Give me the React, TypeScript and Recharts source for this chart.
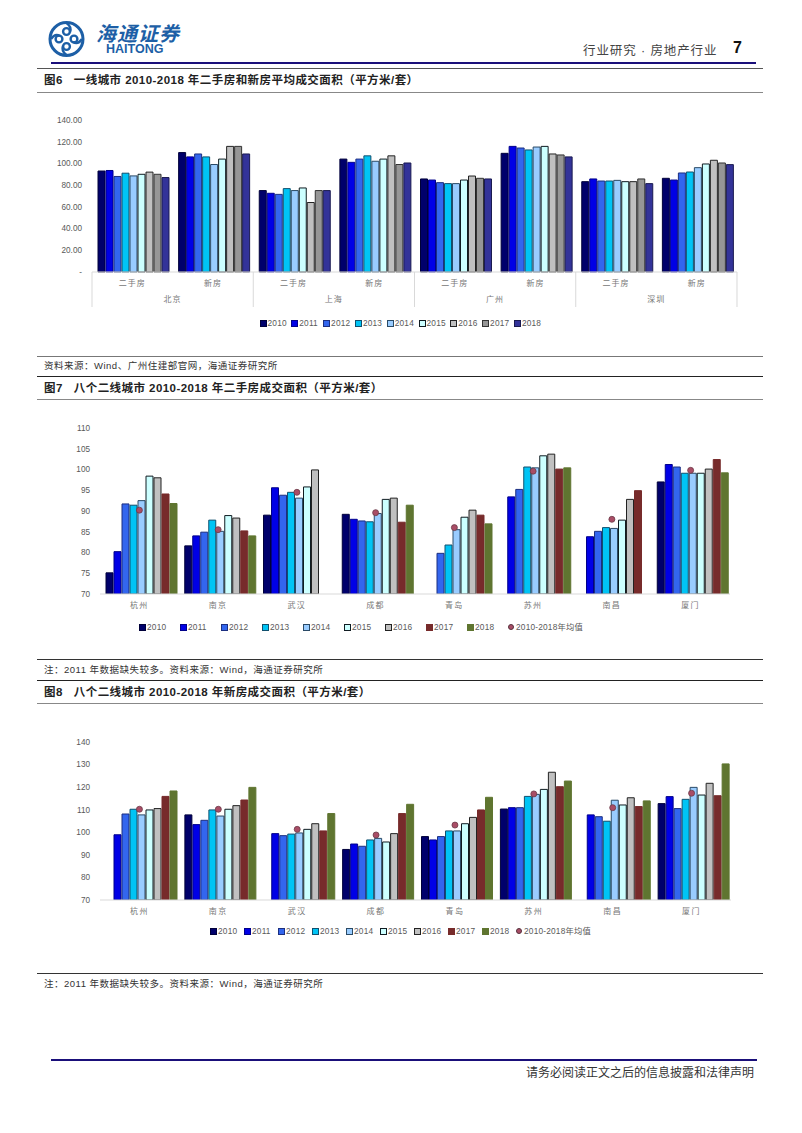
import { BarChart, ComposedChart, Bar, Line, XAxis, YAxis } from "recharts";

const YEARS = ["2010","2011","2012","2013","2014","2015","2016","2017","2018"];
const KINDS = ["二手房","新房","二手房","新房","二手房","新房","二手房","新房"];
const TIER1_CITIES = ["北京","上海","广州","深圳"];
const CITIES = ["杭州","南京","武汉","成都","青岛","苏州","南昌","厦门"];

// fig 6, one list per city/kind, 2010..2018
const BJ_OLD = [93,93.5,88,91,88.5,90,92,90,87];
const BJ_NEW = [110,106,108.7,106,99,104,115.7,115.7,108.7];
const SH_OLD = [75,72.5,71.5,76.8,75,77.4,64,75,75];
const SH_NEW = [104,101,104,107,102,104,107,99,100.4];
const GZ_OLD = [85.7,84.7,82.3,81.4,81.4,84.7,88.4,86.3,85.7];
const GZ_NEW = [109.3,115.7,114.2,112.4,115.1,115.7,108.7,107.8,106];
const SZ_OLD = [83.2,85.7,83.8,83.8,84.4,83.2,83.2,85.7,81.4];
const SZ_NEW = [86.3,84.7,91.2,92.1,96.1,99.5,102.9,100.4,98.9];
const FIG6_ROWS = [BJ_OLD,BJ_NEW,SH_OLD,SH_NEW,GZ_OLD,GZ_NEW,SZ_OLD,SZ_NEW];

// fig 7 second-hand, by city
const F7_ROWS = [
  [75.1,80.2,91.7,91.4,92.5,98.4,98,94.1,91.8],
  [81.6,84,84.9,87.8,85.1,88.9,88.3,85.2,84],
  [89,95.6,93.8,94.5,93.1,95.8,99.9,null,null],
  [89.2,88,87.6,87.4,89.4,92.8,93.1,87.3,91.4],
  [null,null,79.8,81.8,85.5,88.5,90.2,89,86.9],
  [null,93.4,95.2,100.6,100.4,103.3,103.7,100.1,100.4],
  [null,83.8,85.1,86,85.8,87.8,92.8,94.9,null],
  [97,101.2,100.6,99.1,99.1,99.1,100.1,102.4,99.2],
];
const F7_MEAN = [90.2,85.5,94.5,89.6,86,99.6,88,99.8];

// fig 8 new homes, by city
const F8_ROWS = [
  [null,98.9,108.1,110.2,107.7,109.9,110.5,115.9,118.3],
  [107.7,103.4,105.3,109.9,107.2,110.2,111.8,114.3,119.9],
  [null,99.4,98.5,99.2,99.7,101.3,103.8,100.6,108.3],
  [92.4,94.8,93.8,96.6,97.3,95.7,99.4,108.3,112.4],
  [98.1,96.6,98.1,100.6,100.6,103.8,106.6,109.9,115.5],
  [110.3,110.9,110.9,115.9,116.8,119,126.6,120.2,122.7],
  [null,107.7,106.9,104.9,114.2,112.1,115.3,111.4,113.9],
  [112.7,115.8,110.5,114.6,119.9,116.5,121.7,116.2,130.3],
];
const F8_MEAN = [110.2,110.2,101.3,98.8,103.2,117,110.9,117.3];

const FILLS = ["#00006b","#0000e6","#3366ee","#00c4f5","#99ccff","#ccffff","#c0c0c0","#969696","#333399"];
const STROKES = ["#00003a","#00008a","#1c2f80","#10506e","#2a4a66","#101c22","#222222","#333333","#1a1a50"];
const FILLS_B = [...FILLS.slice(0,7),"#772b2b","#5f7530"];
const STROKES_B = [...STROKES.slice(0,7),"#772b2b","#5f7530"];

const SANS = "'Liberation Sans', Arial, sans-serif";
const CJK = "'Noto Sans CJK SC', sans-serif";
const MIXED = "'Liberation Sans', 'Noto Sans CJK SC', sans-serif";
const AXIS_GREY = "#595959";

const fig6Data = KINDS.map((kind, i) => {
  const row: Record<string, any> = { kind, idx: i };
  YEARS.forEach((y, j) => { row[y] = FIG6_ROWS[i][j]; });
  return row;
});
const toRows = (rows: (number | null)[][], mean: number[]) =>
  CITIES.map((city, i) => {
    const row: Record<string, any> = { city, mean: mean[i] };
    YEARS.forEach((y, j) => { row[y] = rows[i][j]; });
    return row;
  });
const fig7Data = toRows(F7_ROWS, F7_MEAN);
const fig8Data = toRows(F8_ROWS, F8_MEAN);

function LegendRow({ fills, strokes, step, left, top, withMean, label }: any) {
  return (
    <div style={{ position: "absolute", left, top, height: 12, fontFamily: MIXED, fontSize: 8.3, color: AXIS_GREY, letterSpacing: 0.2 }}>
      {YEARS.map((y, i) => (
        <span key={y} style={{ position: "absolute", left: i * step, top: 0, whiteSpace: "nowrap", lineHeight: "12px" }}>
          <span style={{ display: "inline-block", width: 5, height: 5, background: fills[i], border: `1px solid ${strokes[i]}`, marginRight: 1, verticalAlign: -0.5 }} />
          {y}
        </span>
      ))}
      {withMean && (
        <span style={{ position: "absolute", left: 9 * step, top: 0, whiteSpace: "nowrap", lineHeight: "12px" }}>
          <span style={{ display: "inline-block", width: 4, height: 4, borderRadius: 3, background: "#a94d66", border: "1px solid #55303c", marginRight: 2, verticalAlign: 0 }} />
          {label}
        </span>
      )}
    </div>
  );
}

function Fig6Tick({ x, y, index }: any) {
  const band = 80.6;
  const isFirst = index % 2 === 0;
  return (
    <g>
      {isFirst && <line x1={x - band / 2} x2={x - band / 2} y1={y - 8} y2={y + 27} stroke="#d9d9d9" />}
      {index === 7 && <line x1={x + band / 2} x2={x + band / 2} y1={y - 8} y2={y + 27} stroke="#d9d9d9" />}
      <text x={x} y={y + 6} textAnchor="middle" fontSize={8} fontFamily={CJK} fill="#777" letterSpacing={1}>{KINDS[index]}</text>
      {isFirst && (
        <text x={x + band / 2} y={y + 22} textAnchor="middle" fontSize={8} fontFamily={CJK} fill="#777" letterSpacing={1}>
          {TIER1_CITIES[index / 2]}
        </text>
      )}
    </g>
  );
}

function CityTick({ x, y, payload }: any) {
  return <text x={x} y={y + 6} textAnchor="middle" fontSize={8} fontFamily={CJK} fill="#777" letterSpacing={1.5}>{payload.value}</text>;
}

const yTick = { fontSize: 8.2, fontFamily: SANS, fill: AXIS_GREY };
const meanDot = { r: 3, fill: "#a94d66", stroke: "#6b3a48", strokeWidth: 0.8 };

function Fig6() {
  return (
    <BarChart width={702} height={230} data={fig6Data} margin={{ top: 20, right: 5, bottom: 0, left: 0 }} barGap={1} barCategoryGap={6}
      style={{ position: "absolute", left: 40, top: 100 }}>
      <XAxis dataKey="idx" interval={0} tick={<Fig6Tick />} tickLine={false} axisLine={{ stroke: "#d9d9d9" }} height={58} />
      <YAxis width={52} domain={[0, 140]} ticks={[0,20,40,60,80,100,120,140]} tick={yTick} tickLine={false} axisLine={false} tickMargin={4}
        tickFormatter={(v: number) => (v === 0 ? "-" : v.toFixed(2))} />
      {YEARS.map((y, i) => (
        <Bar key={y} dataKey={y} fill={FILLS[i]} stroke={STROKES[i]} isAnimationActive={false} />
      ))}
    </BarChart>
  );
}

function CityChart({ data, top, height, width, domain, ticks, axisH }: any) {
  return (
    <ComposedChart width={width} height={height} data={data} margin={{ top: 12, right: 0, bottom: 0, left: 0 }} barGap={1} barCategoryGap={6}
      style={{ position: "absolute", left: 60, top }}>
      <XAxis dataKey="city" interval={0} tick={<CityTick />} tickLine={false} axisLine={{ stroke: "#d9d9d9" }} height={axisH} />
      <YAxis width={40} domain={domain} ticks={ticks} allowDataOverflow tick={yTick} tickLine={false} axisLine={false} tickMargin={4} />
      {YEARS.map((y, i) => (
        <Bar key={y} dataKey={y} fill={FILLS_B[i]} stroke={STROKES_B[i]} isAnimationActive={false} />
      ))}
      <Line dataKey="mean" stroke="none" dot={meanDot} activeDot={false} isAnimationActive={false} />
    </ComposedChart>
  );
}

const rule = (top: number, left: number, right: number, h: number, color: string) => (
  <div style={{ position: "absolute", top, left, width: right - left, height: h, background: color }} />
);

function Txt({ x, y, size, children, color = "#222", weight = 400, font = MIXED, spacing = 0 }: any) {
  return (
    <div style={{ position: "absolute", left: x, top: y, fontSize: size, color, fontWeight: weight, fontFamily: font, letterSpacing: spacing, whiteSpace: "nowrap", lineHeight: "14px" }}>
      {children}
    </div>
  );
}

function Logo() {
  return (
    <svg width={40} height={40} style={{ position: "absolute", left: 47, top: 19 }} viewBox="0 0 40 40">
      <circle cx={19.5} cy={20} r={16.5} fill="none" stroke="#1d5fa6" strokeWidth={3} />
      <g fill="none" stroke="#1d5fa6" strokeWidth={2.4}>
        <circle cx={19.5} cy={12.5} r={3.4} />
        <circle cx={12} cy={20} r={3.4} />
        <circle cx={27} cy={20} r={3.4} />
        <circle cx={19.5} cy={27.5} r={3.4} />
        <path d="M19.5 4 Q25 8 23 13" />
        <path d="M35 20 Q31 26 26 23" />
        <path d="M19.5 36 Q14 32 16 27" />
        <path d="M4 20 Q8 14 13 17" />
      </g>
    </svg>
  );
}

const NOTE = "注：2011 年数据缺失较多。资料来源：Wind，海通证券研究所";

export default function App() {
  return (
    <div style={{ position: "absolute", left: 0, top: 0, width: 802, height: 1133, background: "#fff", overflow: "hidden" }}>
      <Logo />
      <div style={{ position: "absolute", left: 96, top: 23, fontFamily: CJK, fontSize: 20, lineHeight: "20px", fontWeight: 700, color: "#1d5fa6", fontStyle: "italic", letterSpacing: 1, whiteSpace: "nowrap" }}>海通证券</div>
      <div style={{ position: "absolute", left: 106, top: 44, fontFamily: SANS, fontSize: 12.5, lineHeight: "11px", fontWeight: 700, color: "#1d5fa6", whiteSpace: "nowrap" }}>HAITONG</div>
      <Txt x={583} y={44} size={12.5} color="#444" spacing={0.9}>行业研究 · 房地产行业</Txt>
      <Txt x={733} y={41} size={16} weight={700} color="#111" font={SANS}>7</Txt>
      {rule(62, 51, 756, 2, "#1a0f7a")}
      {rule(68, 37, 763, 1, "#555")}

      <Txt x={44} y={73} size={11.5} weight={700} spacing={0.45}>图6&nbsp;&nbsp;&nbsp;一线城市 2010-2018 年二手房和新房平均成交面积（平方米/套）</Txt>
      {rule(92, 37, 763, 1, "#888")}
      <Fig6 />
      <LegendRow fills={FILLS} strokes={STROKES} step={31.8} left={259.5} top={317} />
      {rule(356, 37, 763, 1, "#777")}
      <Txt x={44} y={359} size={9.5} color="#333" spacing={0.5}>资料来源：Wind、广州住建部官网，海通证券研究所</Txt>
      {rule(376, 37, 763, 1, "#222")}

      <Txt x={44} y={381} size={11.5} weight={700} spacing={0.45}>图7&nbsp;&nbsp;&nbsp;八个二线城市 2010-2018 年二手房成交面积（平方米/套）</Txt>
      {rule(399, 37, 763, 1, "#888")}
      <CityChart data={fig7Data} top={416} height={212} width={670} axisH={34} domain={[70,110]} ticks={[70,75,80,85,90,95,100,105,110]} />
      <LegendRow fills={FILLS_B} strokes={STROKES_B} step={41} left={139} top={621} withMean label="2010-2018年均值" />
      {rule(659, 37, 763, 1, "#333")}
      <Txt x={44} y={663} size={9.5} color="#333" spacing={0.5}>{NOTE}</Txt>
      {rule(680, 37, 763, 1, "#222")}

      <Txt x={44} y={685} size={11.5} weight={700} spacing={0.45}>图8&nbsp;&nbsp;&nbsp;八个二线城市 2010-2018 年新房成交面积（平方米/套）</Txt>
      {rule(703, 37, 763, 1, "#888")}
      <CityChart data={fig8Data} top={730} height={204} width={671} axisH={34} domain={[70,140]} ticks={[70,80,90,100,110,120,130,140]} />
      <LegendRow fills={FILLS_B} strokes={STROKES_B} step={34} left={210} top={925} withMean label="2010-2018年均值" />
      {rule(973, 37, 763, 1, "#333")}
      <Txt x={44} y={977} size={9.5} color="#333" spacing={0.5}>{NOTE}</Txt>

      {rule(1059, 51, 757, 2, "#1a0f7a")}
      <Txt x={526} y={1066} size={12} color="#333">请务必阅读正文之后的信息披露和法律声明</Txt>
    </div>
  );
}
